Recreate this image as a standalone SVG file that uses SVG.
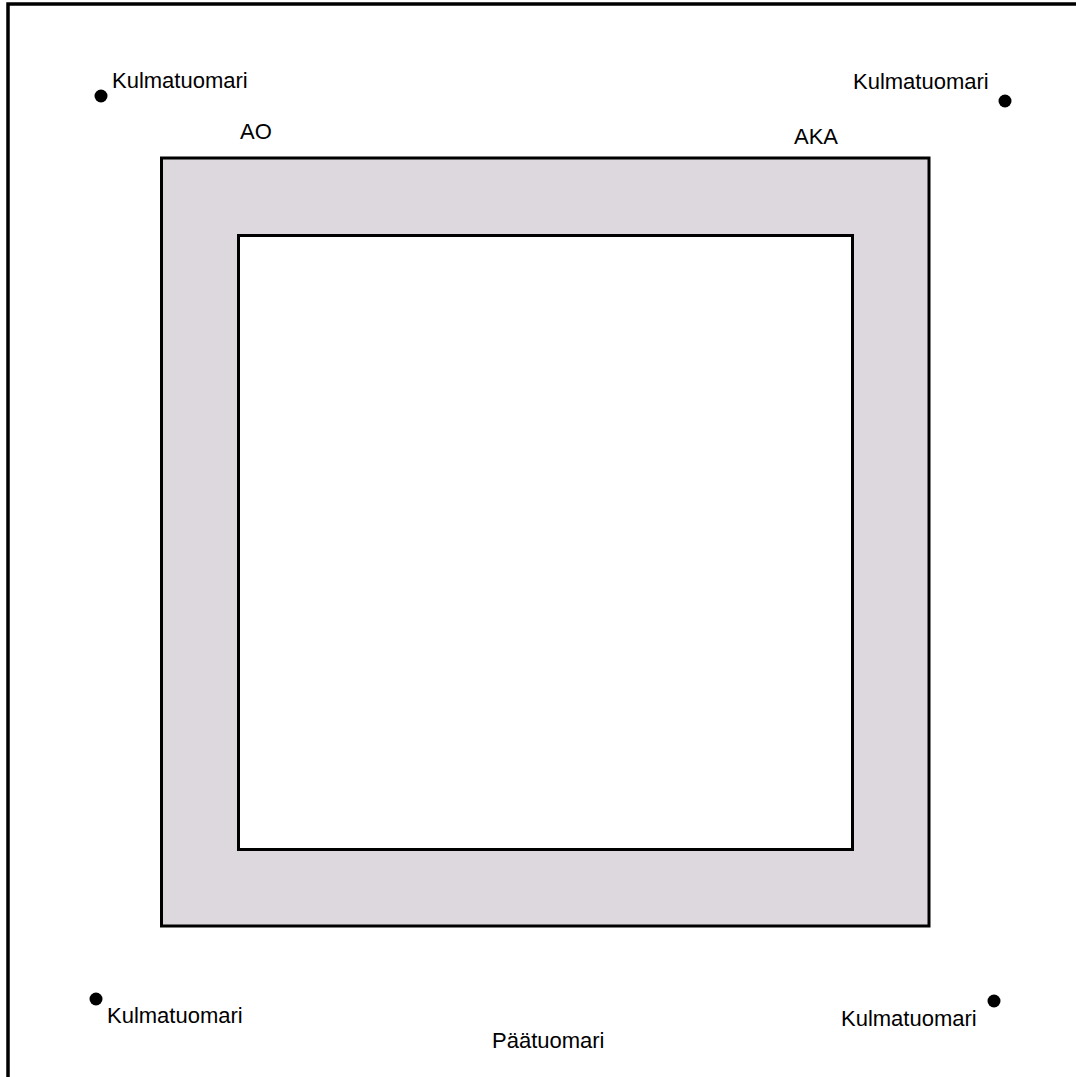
<svg xmlns="http://www.w3.org/2000/svg" width="1076" height="1077" viewBox="0 0 1076 1077">
<style>
.lbl{font-family:"Liberation Sans",Arial,sans-serif;font-size:22px;fill:#000}
.dot{fill:#000}
.ln{fill:none;stroke:#000;stroke-width:3.5}
</style>
<rect x="0" y="0" width="1076" height="1077" fill="#fff"/>
<g id="frame">
<path class="ln" d="M8,1077 V4 H1076"/>
</g>
<g id="field">
<rect x="161.5" y="158" width="767.5" height="768" fill="#ddd7de" stroke="#000" stroke-width="3"/>
<rect x="238.5" y="235.5" width="614" height="614" fill="#fff" stroke="#000" stroke-width="3"/>
</g>
<g id="connectors"></g>
<g id="ref-tl"><circle class="dot" cx="101" cy="96" r="6.5"/><text class="lbl" x="112" y="88">Kulmatuomari</text></g>
<g id="ref-tr"><circle class="dot" cx="1005" cy="101" r="6.5"/><text class="lbl" x="853" y="89">Kulmatuomari</text></g>
<g id="ref-bl"><circle class="dot" cx="96" cy="999" r="6.5"/><text class="lbl" x="107" y="1023">Kulmatuomari</text></g>
<g id="ref-br"><circle class="dot" cx="994" cy="1001" r="6.5"/><text class="lbl" x="841" y="1026">Kulmatuomari</text></g>
<g id="ao"><text class="lbl" x="240" y="139">AO</text></g>
<g id="aka"><text class="lbl" x="794" y="144">AKA</text></g>
<g id="paatuomari"><text class="lbl" x="492" y="1048">Päätuomari</text></g>
</svg>
